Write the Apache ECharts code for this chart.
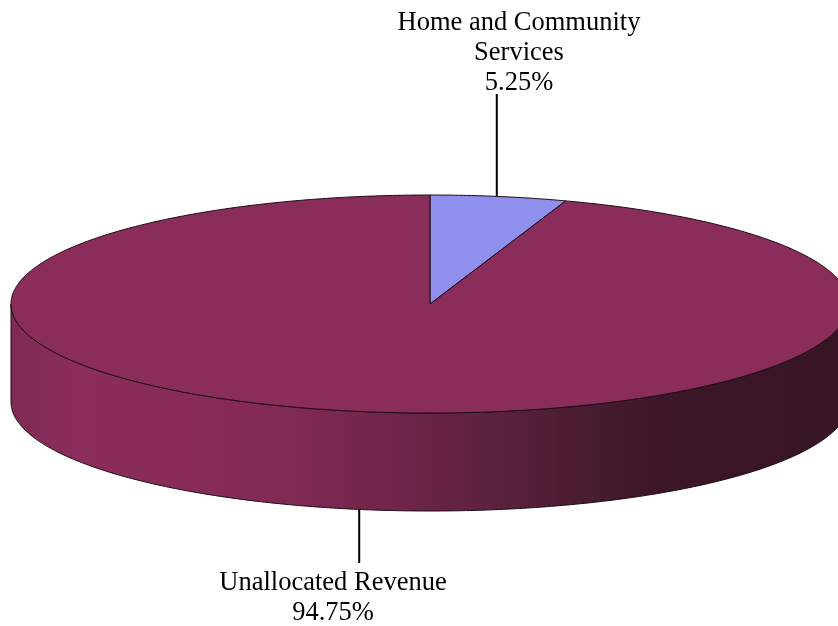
<!DOCTYPE html>
<html>
<head>
<meta charset="utf-8">
<style>html,body{margin:0;padding:0;background:#fff}#c{width:838px;height:626px}</style>
<script src="https://cdn.jsdelivr.net/npm/echarts@6/dist/echarts.min.js"></script>
</head>
<body>
<div id="c"></div>
<script>
const categories = ['Home and Community\nServices', 'Unallocated Revenue'];
const values = [5.25, 94.75];
const sliceColors = ['#8f8fee', '#8b2d5b'];

const CX = 430, CY = 304, RX = 419, RY = 109, DEPTH = 98;
const EDGE = '#1c0b16';
const FONT = '26.5px "Liberation Serif", "Times New Roman", serif';
const sideStops = [
  [0, '#7e2a54'], [0.03, '#842b57'], [0.08, '#8b2d5b'], [0.2, '#8a2c5a'],
  [0.35, '#7f2953'], [0.46, '#6f2549'], [0.6, '#58203b'], [0.72, '#431a2d'],
  [0.8, '#3a1626'], [1, '#381525']
];
const labelOpts = [
  { lineEnd: 94, textX: 519, textY: 98, vAlign: 'bottom' },
  { lineEnd: 563, textX: 333, textY: 568, vAlign: 'top' }
];

const total = values.reduce((a, b) => a + b, 0);
const starts = values.map((_, i) => values.slice(0, i).reduce((a, b) => a + b, 0));
const ang = v => v / total * Math.PI * 2;
const pt = (t, dy) => [CX + RX * Math.sin(t), CY - RY * Math.cos(t) + (dy || 0)];
function arc(a, b, dy) {
  const n = Math.max(2, Math.ceil((b - a) / 0.01));
  const out = [];
  for (let k = 0; k <= n; k++) out.push(pt(a + (b - a) * k / n, dy));
  return out;
}

function renderItem(params, api) {
  const i = params.dataIndex;
  const a = ang(starts[i]), b = ang(starts[i] + values[i]), mid = (a + b) / 2;
  const children = [];
  const sa = Math.max(a, Math.PI / 2), sb = Math.min(b, Math.PI * 1.5);
  if (sb > sa) {
    children.push({
      type: 'polygon',
      shape: { points: arc(sa, sb, 0).concat(arc(sa, sb, DEPTH).reverse()) },
      style: {
        fill: new echarts.graphic.LinearGradient(0, 0, 1, 0,
          sideStops.map(s => ({ offset: s[0], color: s[1] }))),
        stroke: EDGE, lineWidth: 1
      }
    });
  }
  children.push({
    type: 'polygon',
    shape: { points: [[CX, CY]].concat(arc(a, b, 0)) },
    style: { fill: sliceColors[i], stroke: EDGE, lineWidth: 1, lineJoin: 'round' }
  });
  const o = labelOpts[i];
  const front = Math.cos(mid) < 0;
  const p = pt(mid, front ? DEPTH : 0);
  children.push({
    type: 'line',
    shape: { x1: p[0] - 2, y1: p[1], x2: p[0] - 2, y2: o.lineEnd },
    style: { stroke: '#000', lineWidth: 2 }
  });
  children.push({
    type: 'text',
    style: {
      x: o.textX, y: o.textY,
      text: categories[i] + '\n' + values[i].toFixed(2) + '%',
      font: FONT, fill: '#000', align: 'center', verticalAlign: o.vAlign, lineHeight: 30
    }
  });
  return { type: 'group', children };
}

const chart = echarts.init(document.getElementById('c'), null, { renderer: 'canvas' });
chart.setOption({
  animation: false,
  backgroundColor: '#fff',
  series: [{
    type: 'custom',
    coordinateSystem: 'none',
    silent: true,
    data: values.map((v, i) => ({ name: categories[i], value: v })),
    renderItem
  }]
});
</script>
</body>
</html>
